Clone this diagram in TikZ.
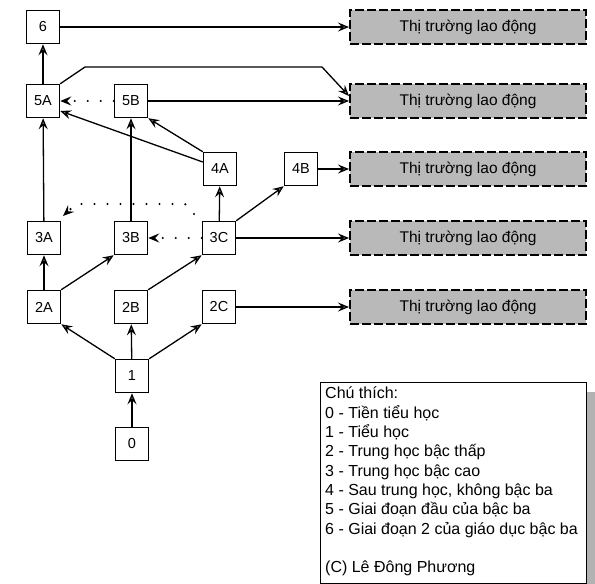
\documentclass[tikz,border=0pt]{standalone}
\usepackage{fontspec}
\setmainfont{Liberation Sans}
\usetikzlibrary{arrows.meta}
\begin{document}
\begin{tikzpicture}[x=1pt,y=-1pt,
  box/.style={draw, line width=1.5pt, fill=white, minimum width=33pt, minimum height=33pt, inner sep=0pt, font=\fontsize{14.5}{16}\selectfont},
  market/.style={draw, line width=2pt, dash pattern=on 9pt off 3pt, fill=gray!55, minimum width=236pt, minimum height=34pt, inner sep=0pt, font=\fontsize{15.5}{17}\selectfont},
  arr/.style={-{Stealth[length=11pt,width=9pt,inset=4pt,fill=gray!70]}, line width=1.3pt},
  dotarr/.style={arr, line width=2.4pt, line cap=round, dash pattern=on 0pt off 13pt},
  legend/.style={draw, line width=0.9pt, fill=white, minimum width=266pt, minimum height=201pt, inner sep=0pt}
]
\useasboundingbox (0,0) rectangle (595,584);

% boxes
\node[box] (n6) at (43,27) {6};
\node[box] (n5A) at (43,101) {5A};
\node[box] (n5B) at (131,101) {5B};
\node[box] (n4A) at (220,169) {4A};
\node[box] (n4B) at (301,169) {4B};
\node[box] (n3A) at (44,238) {3A};
\node[box] (n3B) at (131,238) {3B};
\node[box] (n3C) at (219,238) {3C};
\node[box] (n2A) at (44,307) {2A};
\node[box] (n2B) at (131,307) {2B};
\node[box] (n2C) at (219,307) {2C};
\node[box] (n1) at (132,376) {1};
\node[box] (n0) at (132,444) {0};

% labour markets
\node[market] (m1) at (468,27) {Thị trường lao động};
\node[market] (m2) at (468,101) {Thị trường lao động};
\node[market] (m3) at (468,169) {Thị trường lao động};
\node[market] (m4) at (468,238) {Thị trường lao động};
\node[market] (m5) at (468,307) {Thị trường lao động};

% helper coordinates
\coordinate (k1) at (85,67);
\coordinate (k2) at (322,67);
\coordinate (d1) at (194,214);
\coordinate (d2) at (185,204);
\coordinate (d3) at (76,204);
\coordinate (d4) at (63,216);

% connectors
\draw[arr] (n0) -- (n1);
\draw[arr] (n1) -- (n2B);
\draw[arr] (n1.north west) -- (n2A.south east);
\draw[arr] (n1.north east) -- (n2C.south west);
\draw[arr] (n2A) -- (n3A);
\draw[arr] (n2A.north east) -- (n3B.south west);
\draw[arr] (n2B.north east) -- (n3C.south west);
\draw[arr] (n3A) -- (n5A);
\draw[arr] (n3B) -- (n5B);
\draw[arr] (n3C) -- (n4A);
\draw[arr] (n3C.north east) -- (n4B.south west);
\draw[arr] ([yshift=7pt]n4A.west) -- ([yshift=-10pt]n5A.east);
\draw[arr] (n4A.north west) -- (n5B.south east);
\draw[arr] (n5A) -- (n6);
\draw[arr] (n6) -- (m1);
\draw[arr] (n5A.north east) -- (k1) -- (k2) -- ([yshift=5pt]m2.west);
\draw[arr] (n5B) -- (m2);
\draw[arr] (n4B) -- (m3);
\draw[arr] (n3C) -- (m4);
\draw[arr] (n2C) -- (m5);

% dotted connectors
\draw[dotarr] (n5B) -- (n5A);
\draw[dotarr] (n3C) -- (n3B);
\draw[dotarr] (d1) -- (d2) -- (d3) -- (d4);

% legend
\fill[gray!60] (328,392) rectangle (595,592);
\node[legend, anchor=north west] (lg) at (320,382) {};
\node[anchor=north west, align=left, inner sep=0pt, font=\fontsize{16}{19.3}\selectfont] (lt) at (325,387)
{Chú thích:\\
0 - Tiền tiểu học\\
1 - Tiểu học\\
2 - Trung học bậc thấp\\
3 - Trung học bậc cao\\
4 - Sau trung học, không bậc ba\\
5 - Giai đoạn đầu của bậc ba\\
6 - Giai đoạn 2 của giáo dục bậc ba\\
\mbox{}\\
(C) Lê Đông Phương};
\end{tikzpicture}
\end{document}
